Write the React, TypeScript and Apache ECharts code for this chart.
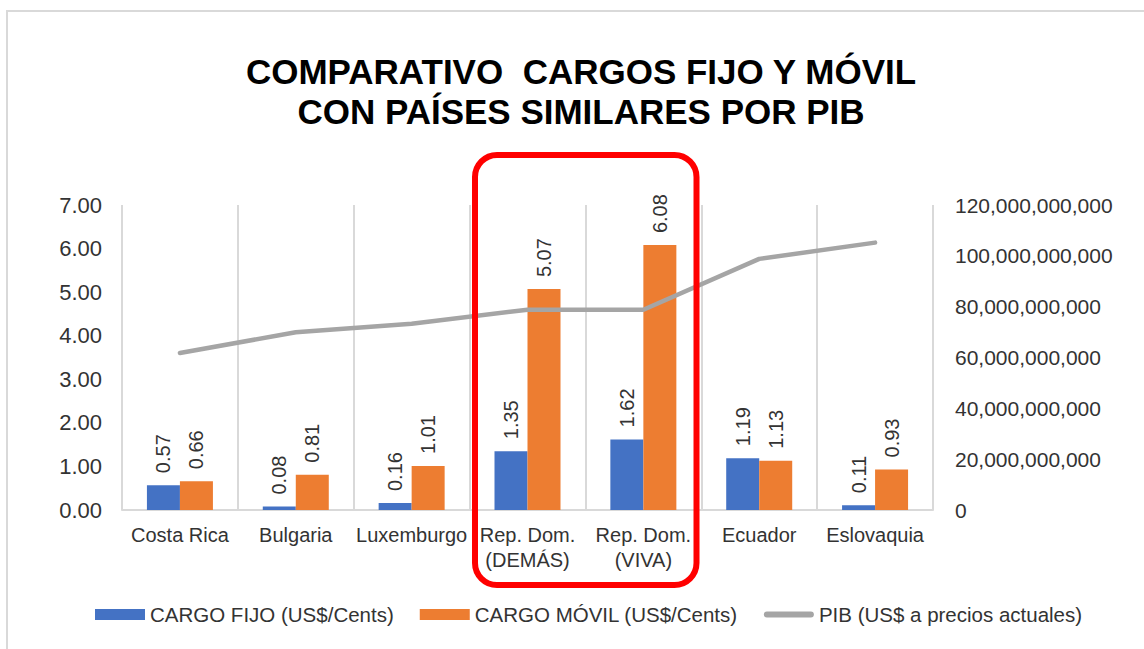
import React, { useEffect, useRef } from "react";
import * as echarts from "echarts";

const categories = [
  "Costa Rica",
  "Bulgaria",
  "Luxemburgo",
  "Rep. Dom.\n(DEMÁS)",
  "Rep. Dom.\n(VIVA)",
  "Ecuador",
  "Eslovaquia",
];
const cargoFijo = [0.57, 0.08, 0.16, 1.35, 1.62, 1.19, 0.11];
const cargoMovil = [0.66, 0.81, 1.01, 5.07, 6.08, 1.13, 0.93];
const pib = [61.8e9, 69.9e9, 73.3e9, 78.8e9, 78.8e9, 98.8e9, 105.2e9];
const seriesNames = [
  "CARGO FIJO (US$/Cents)",
  "CARGO MÓVIL (US$/Cents)",
  "PIB (US$ a precios actuales)",
];
const titleText = "COMPARATIVO  CARGOS FIJO Y MÓVIL\nCON PAÍSES SIMILARES POR PIB";

const FONT = "'Liberation Sans', Arial, sans-serif";
const TEXT = "#333333";
const LINE_ICON = "path://M3,0 L47,0 A3,3 0 0 1 47,6 L3,6 A3,3 0 0 1 3,0 Z";

export default function App() {
  const ref = useRef<HTMLDivElement>(null);
  useEffect(() => {
    if (!ref.current) return;
    const chart = echarts.init(ref.current, undefined, { renderer: "svg" });
    const label = {
      show: true,
      position: "top",
      rotate: 90,
      align: "left",
      verticalAlign: "middle",
      distance: 12,
      fontSize: 20,
      color: TEXT,
      fontFamily: FONT,
      formatter: (p: any) => Number(p.value).toFixed(2),
    };
    chart.setOption({
      animation: false,
      backgroundColor: "#ffffff",
      textStyle: { fontFamily: FONT },
      graphic: [
        {
          type: "rect",
          shape: { x: 7, y: 11, width: 1200, height: 700 },
          style: { fill: "none", stroke: "#d9d9d9", lineWidth: 2 },
          silent: true,
        },
        {
          type: "text",
          x: 581,
          y: 51,
          style: {
            text: titleText,
            font: `bold 35px ${FONT}`,
            fill: "#000000",
            textAlign: "center",
            textVerticalAlign: "top",
            lineHeight: 40,
          },
        },
        {
          type: "rect",
          z: 100,
          shape: { x: 475, y: 155, width: 221.5, height: 430, r: 22 },
          style: { fill: "none", stroke: "#ff0000", lineWidth: 6 },
          silent: true,
        },
      ],
      grid: { left: 122, right: 1144 - 933, top: 205, bottom: 649 - 510, containLabel: false },
      legend: {
        left: 90,
        top: 599,
        itemWidth: 50,
        itemHeight: 11,
        itemGap: 26,
        symbolKeepAspect: true,
        textStyle: { fontSize: 20.5, color: TEXT, fontFamily: FONT },
        data: [
          { name: seriesNames[0], icon: "rect" },
          { name: seriesNames[1], icon: "rect" },
          { name: seriesNames[2], icon: LINE_ICON, itemStyle: { color: "#a5a5a5" } },
        ],
      },
      xAxis: {
        type: "category",
        data: categories,
        axisLine: { lineStyle: { color: "#d9d9d9", width: 2 } },
        axisTick: { show: false },
        splitLine: { show: true, lineStyle: { color: "#d9d9d9", width: 2 } },
        axisLabel: {
          interval: 0,
          margin: 12,
          fontSize: 20,
          lineHeight: 25,
          color: TEXT,
          fontFamily: FONT,
        },
      },
      yAxis: [
        {
          type: "value",
          min: 0,
          max: 7,
          interval: 1,
          splitLine: { show: false },
          axisLine: { show: false },
          axisTick: { show: false },
          axisLabel: {
            margin: 20,
            fontSize: 22,
            color: TEXT,
            fontFamily: FONT,
            formatter: (v: number) => v.toFixed(2),
          },
        },
        {
          type: "value",
          min: 0,
          max: 120e9,
          interval: 20e9,
          splitLine: { show: false },
          axisLine: { show: false },
          axisTick: { show: false },
          axisLabel: {
            margin: 22,
            fontSize: 21,
            color: TEXT,
            fontFamily: FONT,
            formatter: (v: number) => Math.round(v).toLocaleString("en-US"),
          },
        },
      ],
      series: [
        {
          name: seriesNames[0],
          type: "bar",
          data: cargoFijo,
          barWidth: 33,
          barGap: "0%",
          itemStyle: { color: "#4472c4" },
          label,
        },
        {
          name: seriesNames[1],
          type: "bar",
          data: cargoMovil,
          barWidth: 33,
          barGap: "0%",
          itemStyle: { color: "#ed7d31" },
          label,
        },
        {
          name: seriesNames[2],
          type: "line",
          yAxisIndex: 1,
          data: pib,
          symbol: "none",
          z: 5,
          lineStyle: { color: "#a5a5a5", width: 4.5, cap: "round", join: "round" },
          itemStyle: { color: "#a5a5a5" },
        },
      ],
    });
    return () => chart.dispose();
  }, []);
  return (
    <div
      ref={ref}
      style={{ position: "absolute", left: 0, top: 0, width: 1144, height: 649 }}
    />
  );
}
